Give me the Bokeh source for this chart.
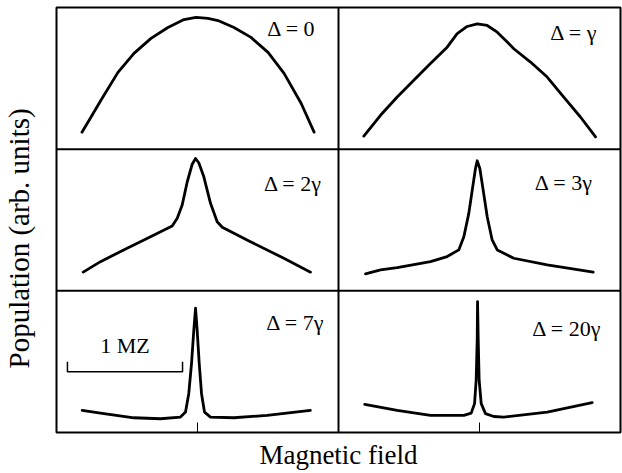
from bokeh.plotting import figure
from bokeh.models import Range1d, Span, Label, FixedTicker, Title
from bokeh.embed import file_html
from bokeh.resources import INLINE

# Detuning of each panel, read row by row (left, right)
panel_labels = ["Δ = 0", "Δ = γ", "Δ = 2γ", "Δ = 3γ", "Δ = 7γ", "Δ = 20γ"]

# Magnetic field (MZ, relative to resonance) and population (arb. units)
field_d0 = [-1.004, -0.926, -0.839, -0.691, -0.552, -0.404, -0.257, -0.117, -0.013,
            0.091, 0.178, 0.317, 0.465, 0.613, 0.752, 0.900, 1.013]
pop_d0 = [0.120, 0.225, 0.345, 0.542, 0.676, 0.782, 0.859, 0.915, 0.930,
          0.923, 0.908, 0.859, 0.789, 0.683, 0.535, 0.324, 0.120]

field_d1 = [-1.005, -0.860, -0.715, -0.571, -0.426, -0.281, -0.194, -0.107, -0.020,
            0.067, 0.154, 0.241, 0.298, 0.443, 0.588, 0.732, 0.877, 1.008]
pop_d1 = [0.092, 0.239, 0.368, 0.486, 0.604, 0.720, 0.815, 0.866, 0.885,
          0.873, 0.826, 0.756, 0.709, 0.615, 0.509, 0.368, 0.227, 0.087]

field_d2 = [-0.993, -0.843, -0.611, -0.408, -0.220, -0.176, -0.133, -0.089, -0.046,
            -0.017, 0.011, 0.055, 0.113, 0.171, 0.215, 0.460, 0.750, 0.982]
pop_d2 = [0.132, 0.206, 0.301, 0.382, 0.458, 0.512, 0.606, 0.770, 0.894,
          0.934, 0.904, 0.805, 0.618, 0.488, 0.449, 0.347, 0.230, 0.132]

field_d3 = [-0.990, -0.860, -0.715, -0.426, -0.281, -0.180, -0.136, -0.093, -0.063,
            -0.035, -0.020, 0.003, 0.032, 0.067, 0.110, 0.154, 0.298, 0.588, 0.988]
pop_d3 = [0.120, 0.148, 0.164, 0.206, 0.242, 0.289, 0.382, 0.547, 0.711,
          0.864, 0.918, 0.864, 0.711, 0.523, 0.359, 0.289, 0.230, 0.183, 0.132]

field_d7 = [-1.002, -0.843, -0.553, -0.321, -0.148, -0.104, -0.076, -0.052, -0.032,
            -0.017, -0.003, 0.015, 0.035, 0.061, 0.113, 0.315, 0.605, 0.980]
pop_d7 = [0.156, 0.137, 0.104, 0.097, 0.109, 0.144, 0.274, 0.487, 0.723,
          0.877, 0.723, 0.487, 0.274, 0.144, 0.109, 0.104, 0.121, 0.156]

field_d20 = [-0.997, -0.715, -0.426, -0.136, -0.072, -0.043, -0.029, -0.020, -0.017,
             -0.011, -0.003, 0.015, 0.052, 0.124, 0.211, 0.588, 0.979]
pop_d20 = [0.199, 0.156, 0.121, 0.121, 0.137, 0.204, 0.369, 0.652, 0.924,
           0.652, 0.369, 0.204, 0.133, 0.113, 0.109, 0.144, 0.211]

fields = [field_d0, field_d1, field_d2, field_d3, field_d7, field_d20]
pops = [pop_d0, pop_d1, pop_d2, pop_d3, pop_d7, pop_d20]

# Scale bar in the Δ = 7γ panel: 1 MZ long
scale_bar_label = "1 MZ"
scale_bar_length = 1.0

x_title = "Magnetic field"
y_title = "Population  (arb. units)"

# Field span of one panel (MZ); each panel is one population unit tall
W = 2.45
NCOL, NROW = 2, 3

# Where each panel's label is centred (panel-local field, population)
label_anchor = [(0.817, 0.849), (0.821, 0.827), (0.830, 0.761),
                (0.734, 0.768), (0.851, 0.777), (0.760, 0.735)]

FONT = "Liberation Serif"


def panel_origin(i):
    col, row = i % NCOL, i // NCOL
    return col * W + W / 2, (NROW - 1 - row)


p = figure(width=622, height=473, output_backend="svg", toolbar_location=None,
           x_range=Range1d(0, NCOL * W), y_range=Range1d(0, NROW),
           y_axis_location="left", min_border_left=56, min_border_right=2,
           min_border_top=7, min_border_bottom=41)
p.grid.visible = False
p.outline_line_color = "black"
p.outline_line_width = 2
p.background_fill_color = "white"
p.border_fill_color = "white"

# Tick at the resonance (zero field) of each column
ax = p.xaxis[0]
ax.ticker = FixedTicker(ticks=[c * W + W / 2 for c in range(NCOL)])
ax.major_tick_in = 10
ax.major_tick_out = 0
ax.major_tick_line_width = 1
ax.minor_tick_line_color = None
ax.axis_line_color = None
ax.major_label_text_font_size = "0px"
ax.major_label_standoff = 0
ax.axis_label = x_title
ax.axis_label_text_font = FONT
ax.axis_label_text_font_size = "27px"
ax.axis_label_text_font_style = "normal"
ax.axis_label_text_color = "black"
ax.axis_label_standoff = 7

# Population axis: hidden tick, it only sets the gap between frame and title
yax = p.yaxis[0]
yax.ticker = FixedTicker(ticks=[NROW / 2])
yax.axis_line_color = None
yax.major_tick_line_color = None
yax.minor_tick_line_color = None
yax.major_tick_in = 0
yax.major_tick_out = 22
yax.minor_tick_out = 0
yax.major_label_text_font_size = "0px"
yax.major_label_standoff = 0

p.add_layout(Title(text=y_title, align="left", offset=64, vertical_align="bottom",
                   text_font=FONT, text_font_size="29px", text_font_style="normal",
                   text_color="black", standoff=0), "left")

# Panel dividers
for r in range(1, NROW):
    p.add_layout(Span(location=r, dimension="width", line_color="black", line_width=2))
for c in range(1, NCOL):
    p.add_layout(Span(location=c * W, dimension="height", line_color="black", line_width=2))

for i, (f, n) in enumerate(zip(fields, pops)):
    x0, y0 = panel_origin(i)
    p.line([x0 + v for v in f], [y0 + v for v in n], line_color="black",
           line_width=2.8, line_join="round", line_cap="round")
    lx, ly = label_anchor[i]
    p.add_layout(Label(x=x0 + lx, y=y0 + ly, text=panel_labels[i], text_font=FONT,
                       text_font_size="22px", text_align="center",
                       text_baseline="middle", text_color="black"))

# Scale bar
x0, y0 = panel_origin(4)
bar_start = -1.13
bar_y, bar_tick = 0.428, 0.071
xs = [bar_start, bar_start, bar_start + scale_bar_length, bar_start + scale_bar_length]
ys = [bar_y + bar_tick, bar_y, bar_y, bar_y + bar_tick]
p.line([x0 + v for v in xs], [y0 + v for v in ys], line_color="black", line_width=1.5)
p.add_layout(Label(x=x0 + bar_start + scale_bar_length / 2, y=y0 + 0.613,
                   text=scale_bar_label, text_font=FONT, text_font_size="22px",
                   text_align="center", text_baseline="middle", text_color="black"))

open("out.html", "w").write(file_html(p, INLINE))
